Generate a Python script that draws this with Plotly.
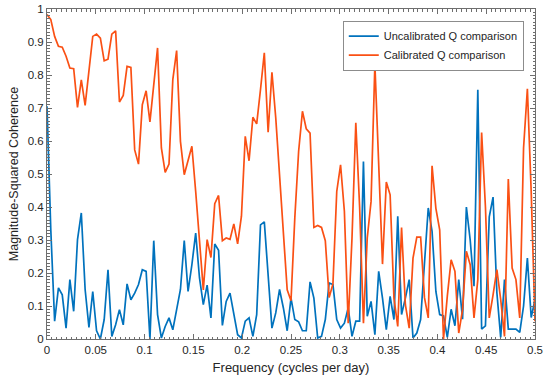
import plotly.graph_objects as go

# Frequency grid: 129 points, 0 .. 0.5 cycles per day (step 1/256)
n_points = 129
freq = [k / 256 for k in range(n_points)]

uncalibrated = [
    0.705, 0.33, 0.054, 0.155, 0.134, 0.033, 0.18, 0.084, 0.301, 0.382,
    0.15, 0.035, 0.144, 0.025, 0.0, 0.059, 0.21, 0.008, 0.043, 0.089,
    0.043, 0.167, 0.119, 0.139, 0.165, 0.21, 0.205, 0.0, 0.298, 0.074,
    0.003, 0.038, 0.064, 0.028, 0.089, 0.15, 0.298, 0.144, 0.225, 0.321,
    0.185, 0.104, 0.163, 0.064, 0.288, 0.269, 0.041, 0.114, 0.139, 0.074,
    0.013, 0.003, 0.054, 0.064, 0.008, 0.074, 0.346, 0.355, 0.195, 0.033,
    0.079, 0.15, 0.094, 0.025, 0.124, 0.059, 0.052, 0.025, 0.025, 0.173,
    0.124, 0.003, 0.008, 0.059, 0.17, 0.165, 0.059, 0.033, 0.048, 0.094,
    0.008, 0.054, 0.054, 0.538, 0.069, 0.114, 0.013, 0.205, 0.124, 0.028,
    0.129, 0.059, 0.372, 0.074, 0.124, 0.18, 0.003, 0.018, 0.059, 0.235,
    0.397, 0.326, 0.144, 0.074, 0.07, 0.005, 0.09, 0.04, 0.18, 0.06,
    0.40, 0.30, 0.16, 0.755, 0.03, 0.04, 0.37, 0.43, 0.14, 0.005,
    0.18, 0.03, 0.03, 0.03, 0.02, 0.10, 0.245, 0.065, 0.12,
]

calibrated = [
    0.983, 0.968, 0.917, 0.887, 0.884, 0.857, 0.821, 0.819, 0.702, 0.785,
    0.708, 0.821, 0.917, 0.924, 0.912, 0.843, 0.848, 0.924, 0.934, 0.718,
    0.738, 0.826, 0.823, 0.573, 0.530, 0.710, 0.752, 0.658, 0.771, 0.882,
    0.579, 0.505, 0.530, 0.786, 0.874, 0.599, 0.498, 0.540, 0.584, 0.447,
    0.306, 0.149, 0.301, 0.247, 0.410, 0.435, 0.298, 0.306, 0.302, 0.349,
    0.288, 0.372, 0.614, 0.540, 0.672, 0.652, 0.756, 0.867, 0.627, 0.808,
    0.670, 0.488, 0.326, 0.149, 0.116, 0.367, 0.569, 0.690, 0.637, 0.624,
    0.338, 0.344, 0.338, 0.298, 0.126, 0.167, 0.447, 0.528, 0.387, 0.048,
    0.306, 0.655, 0.40, 0.048, 0.306, 0.417, 0.833, 0.55, 0.227, 0.476,
    0.437, 0.124, 0.038, 0.338, 0.104, 0.033, 0.245, 0.309, 0.309, 0.126,
    0.064, 0.525, 0.396, 0.331, 0.0, 0.13, 0.24, 0.205, 0.018, 0.089,
    0.266, 0.225, 0.064, 0.18, 0.626, 0.40, 0.064, 0.134, 0.21, 0.12,
    0.008, 0.485, 0.215, 0.18, 0.064, 0.579, 0.758, 0.447, 0.054,
]

series_names = ["Uncalibrated Q comparison", "Calibrated Q comparison"]
series_colors = ["#0072BD", "#FA5014"]

font_family = "Liberation Sans, Arial, sans-serif"
axis_color = "#6e6e6e"

fig = go.Figure()
for name, vals, col in zip(series_names, [uncalibrated, calibrated], series_colors):
    fig.add_trace(go.Scatter(x=freq, y=vals, mode="lines", name=name,
                             line=dict(color=col, width=1.7)))

common_axis = dict(
    showline=True, linecolor=axis_color, linewidth=1, mirror="ticks",
    ticks="inside", ticklen=5, tickcolor=axis_color, tickwidth=1,
    showgrid=False, zeroline=False, automargin=False,
    tickfont=dict(family=font_family, size=11.5, color="#262626"),
)

fig.update_layout(
    width=550, height=385,
    margin=dict(l=47, r=15, t=9, b=46),
    paper_bgcolor="white", plot_bgcolor="white",
    font=dict(family=font_family, color="#262626"),
    xaxis=dict(
        range=[0, 0.5], dtick=0.05, tick0=0,
        minor=dict(dtick=0.005, ticks="inside", ticklen=2.5, tickcolor=axis_color, showgrid=False),
        title=dict(text="Frequency (cycles per day)", font=dict(size=13), standoff=8),
        **common_axis,
    ),
    yaxis=dict(
        range=[0, 1], dtick=0.1, tick0=0,
        minor=dict(dtick=0.01, ticks="inside", ticklen=2.5, tickcolor=axis_color, showgrid=False),
        title=dict(text="Magnitude-Squared Coherence", font=dict(size=12.5), standoff=6),
        **common_axis,
    ),
    legend=dict(
        x=0.977, xanchor="right", y=0.965, yanchor="top",
        bgcolor="white", bordercolor="#8c8c8c", borderwidth=1,
        font=dict(family=font_family, size=11, color="#262626"),
        tracegroupgap=0, itemwidth=30,
    ),
    showlegend=True,
)

fig.write_html(
    "out.html",
    config={"displayModeBar": False},
    post_script="document.body.style.margin='0';document.body.style.padding='0';",
)
